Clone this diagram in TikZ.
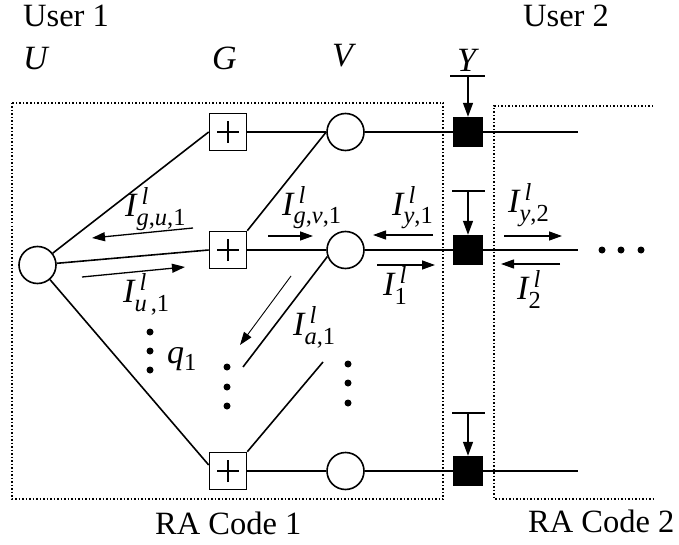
\documentclass[tikz,border=0pt]{standalone}
\usepackage{fontspec}
\setmainfont{Liberation Serif}
\usetikzlibrary{arrows.meta}
\newcommand\UP[1]{\textup{#1}}
\newcommand\Ilab[1]{\fontsize{34}{34}\selectfont\itshape I\rlap{\hspace{5pt}\raisebox{12pt}{\fontsize{24.5}{24.5}\selectfont l}}\raisebox{-9pt}{\fontsize{24.5}{24.5}\selectfont #1}}
\begin{document}
\begin{tikzpicture}[x=1pt,y=-1pt,
  ln/.style={line width=1.6pt},
  arr/.style={line width=1.3pt,-{Triangle[length=13pt,width=9pt]}},
  thinarr/.style={line width=0.9pt,-{Triangle[length=13pt,width=9pt]}},
  tarr/.style={line width=1.4pt,-{Triangle[length=14pt,width=10pt]}},
  gbox/.style={draw,line width=1.6pt,minimum size=37pt,inner sep=0pt,
    path picture={\draw[line width=1.4pt]
      ([xshift=-11pt]path picture bounding box.center) -- ++(22pt,0pt)
      ([yshift=-11pt]path picture bounding box.center) -- ++(0pt,22pt);}},
  vc/.style={draw,circle,line width=1.6pt,minimum size=37pt,inner sep=0pt},
  ysq/.style={fill=black,minimum size=30pt,inner sep=0pt},
  dbox/.style={dotted,line width=1.5pt},
  dotn/.style={circle,fill=black,minimum size=7pt,inner sep=0pt},
  lab/.style={inner sep=0pt,anchor=base west},
  txt/.style={inner sep=0pt,anchor=base west,font=\fontsize{32.5}{32.5}\selectfont},
  var/.style={inner sep=0pt,anchor=base west,font=\fontsize{34}{34}\selectfont\itshape},
]
\useasboundingbox (0,0) rectangle (679,545);
% dotted boxes
\draw[dbox] (12,103) rectangle (443,499);
\draw[dbox] (653,106) -- (494,106) -- (494,499) -- (653,499);
% texts
\node[txt] (user1) at (23,27) {User 1};
\node[txt] (user2) at (523,27) {User 2};
\node[var] (lU) at (23,70) {U};
\node[var] (lG) at (212,70) {G};
\node[var] (lV) at (332,67) {V};
\node[var] (lY) at (457,72) {Y};
\node[txt] (ra1) at (155,534) {RA Code 1};
\node[txt] (ra2) at (528,532) {RA Code 2};
% nodes
\node[vc] (U) at (37.5,265) {};
\node[gbox] (G1) at (228,132) {};
\node[gbox] (G2) at (228,250) {};
\node[gbox] (G3) at (228,471) {};
\node[vc] (V1) at (345.5,132) {};
\node[vc] (V2) at (345.5,250) {};
\node[vc] (V3) at (345.5,471) {};
\node[ysq] (Y1) at (468,132) {};
\node[ysq] (Y2) at (468,250) {};
\node[ysq] (Y3) at (468,471) {};
\coordinate (E1) at (578,132);
\coordinate (E2) at (578,250);
\coordinate (E3) at (578,471);
\coordinate (D1) at (243,367);
\coordinate (D2) at (323,362);
% T inputs
\coordinate (T1) at (468,76);  \coordinate (T1L) at (450,76);  \coordinate (T1R) at (485,76);
\coordinate (T2) at (468,191); \coordinate (T2L) at (452,191); \coordinate (T2R) at (485,191);
\coordinate (T3) at (468,413); \coordinate (T3L) at (452,413); \coordinate (T3R) at (485,413);
\draw[ln] (T1L) -- (T1R); \draw[tarr] (T1) -- (Y1.north);
\draw[ln] (T2L) -- (T2R); \draw[tarr] (T2) -- (Y2.north);
\draw[ln] (T3L) -- (T3R); \draw[tarr] (T3) -- (Y3.north);
% edges
\draw[ln] (U) -- (G1.west);
\draw[ln] (U) -- (G2.west);
\draw[ln] (U) -- ([yshift=6pt]G3.west);
\draw[ln] (G1) -- (V1);
\draw[ln] (G2.north east) -- (V1.west);
\draw[ln] (G2) -- (V2);
\draw[ln] (V2.200) -- (D1);
\draw[ln] (D2) -- (G3.north east);
\draw[ln] (G3) -- (V3);
\draw[ln] (V1) -- (Y1); \draw[ln] (Y1) -- (E1);
\draw[ln] (V2) -- (Y2); \draw[ln] (Y2) -- (E2);
\draw[ln] (V3) -- (Y3); \draw[ln] (Y3) -- (E3);
% dots
\foreach \n/\x/\y in {q1/150/332,q2/150/351,q3/150/370,
                      m1/227/367,m2/227/387,m3/227/406,
                      r1/348/364,r2/348/383,r3/348/403,
                      h1/602/250,h2/621/250,h3/641/250}
  \node[dotn] (dot\n) at (\x,\y) {};
% message arrows
\coordinate (a1s) at (193,228); \coordinate (a1e) at (92,238);
\coordinate (a2s) at (82,277);  \coordinate (a2e) at (185,267);
\coordinate (a3s) at (268,236); \coordinate (a3e) at (313,236);
\coordinate (a4s) at (433,235); \coordinate (a4e) at (373,235);
\coordinate (a5s) at (377,265); \coordinate (a5e) at (435,265);
\coordinate (a6s) at (504,236); \coordinate (a6e) at (562,236);
\coordinate (a7s) at (560,264); \coordinate (a7e) at (501,264);
\coordinate (a8s) at (291,276); \coordinate (a8e) at (240,345);
\draw[arr] (a1s) -- (a1e);
\draw[arr] (a2s) -- (a2e);
\draw[arr] (a3s) -- (a3e);
\draw[arr] (a4s) -- (a4e);
\draw[arr] (a5s) -- (a5e);
\draw[arr] (a6s) -- (a6e);
\draw[arr] (a7s) -- (a7e);
\draw[thinarr] (a8s) -- (a8e);
% labels
\node[lab] (L1) at (125,217) {\Ilab{g\UP{,}u\UP{,1}}};
\node[lab] (L2) at (123,302) {\Ilab{u\UP{\,,1}}};
\node[lab] (L3) at (282,215) {\Ilab{g\UP{,}v\UP{,1}}};
\node[lab] (L4) at (392,215) {\Ilab{y\UP{,1}}};
\node[lab] (L5) at (383,295) {\Ilab{\UP{1}}};
\node[lab] (L6) at (508,213) {\Ilab{y\UP{,2}}};
\node[lab] (L7) at (517,299) {\Ilab{\UP{2}}};
\node[lab] (L8) at (293,335) {\Ilab{a\UP{,1}}};
\node[lab,font=\fontsize{34}{34}\selectfont\itshape] (Lq) at (167,363) {q\raisebox{-7pt}{\fontsize{24.5}{24.5}\selectfont\upshape 1}};
\end{tikzpicture}
\end{document}
